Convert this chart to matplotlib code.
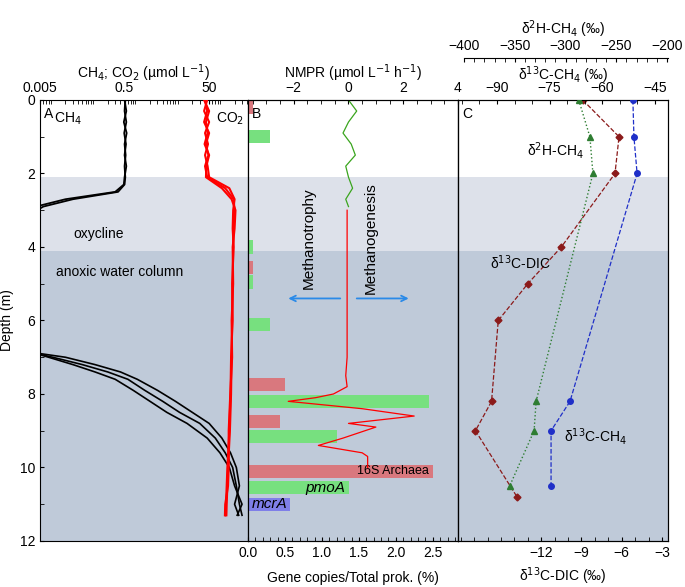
import matplotlib
matplotlib.use("Agg")
import matplotlib.pyplot as plt
from matplotlib.ticker import MultipleLocator, FixedLocator, LogLocator, NullFormatter

plt.rcParams["font.family"] = "Liberation Sans"
plt.rcParams["font.size"] = 10

# ---------------- data ----------------
# Panel A: concentration profiles (umol/L) vs depth (m)
ch4_d_up = [0, 0.3, 0.6, 0.9, 1.2, 1.5, 1.8, 2.1, 2.3, 2.5, 2.7, 2.9, 3.1, 3.2]
ch4_r1_up = [0.5, 0.55, 0.48, 0.56, 0.5, 0.53, 0.5, 0.52, 0.5, 0.35, 0.03, 0.006, 0.003, 0.002]
ch4_r2_up = [0.52, 0.5, 0.55, 0.49, 0.54, 0.5, 0.55, 0.5, 0.48, 0.3, 0.02, 0.004, 0.002, 0.001]
ch4_d_dn = [6.9, 7.0, 7.2, 7.4, 7.6, 7.9, 8.2, 8.5, 8.8, 9.2, 9.6, 10.0, 10.5, 11.0, 11.3]
ch4_r1_dn = [0.004, 0.01, 0.05, 0.2, 0.6, 1.5, 4, 10, 30, 70, 120, 180, 220, 260, 300]
ch4_r2_dn = [0.005, 0.02, 0.1, 0.4, 1.0, 3.0, 8, 20, 50, 100, 160, 220, 260, 200, 250]
ch4_r3_dn = [0.004, 0.008, 0.03, 0.1, 0.3, 0.8, 2, 5, 15, 45, 90, 150, 200, 300, 230]
co2_d = [0, 0.3, 0.6, 0.9, 1.2, 1.5, 1.8, 2.1, 2.4, 2.7, 3.0, 3.5, 4.0, 5.0, 6.0, 7.0, 8.0, 9.0, 10.0, 10.5, 11.0, 11.3]
co2_r1 = [40, 45, 38, 50, 42, 48, 40, 45, 120, 190, 200, 190, 185, 180, 175, 170, 165, 155, 140, 135, 130, 128]
co2_r2 = [45, 38, 50, 40, 47, 40, 46, 50, 150, 200, 185, 180, 190, 175, 180, 165, 160, 150, 135, 130, 125, 122]
co2_r3 = [38, 50, 42, 46, 39, 50, 43, 42, 100, 170, 210, 200, 180, 185, 170, 175, 158, 145, 145, 140, 120, 118]

# Panel B: NMPR (umol/L/h)
nmpr_ox_d = [0, 0.3, 0.6, 0.9, 1.2, 1.5, 1.8, 2.1, 2.4, 2.7, 2.9]
nmpr_ox_v = [0.0, 0.3, 0.0, -0.2, 0.1, 0.25, -0.1, 0.0, 0.15, -0.1, 0.0]
nmpr_an_d = [3.0, 4.0, 5.0, 6.0, 7.0, 7.5, 7.8, 8.0, 8.1, 8.2, 8.4, 8.6, 8.8, 8.9, 9.0, 9.2, 9.4, 9.6, 9.7, 10.0]
nmpr_an_v = [-0.05, -0.05, -0.05, -0.05, -0.05, -0.1, -0.05, -0.55, -1.2, -2.2, 0.5, 2.4, 0.0, 1.0, 0.6, -0.2, -1.1, 0.5, 0.7, 0.7]

# Panel B: gene copies / total prokaryotes (%)
arch_d = [0.2, 4.55, 7.75, 8.75, 10.1]
arch_v = [0.07, 0.07, 0.5, 0.43, 2.5]
pmoa_d = [1.0, 4.0, 4.95, 6.1, 8.2, 9.15, 10.55]
pmoa_v = [0.3, 0.07, 0.07, 0.3, 2.45, 1.2, 1.37]
mcra_d = [9.55, 11.0]
mcra_v = [0.02, 0.57]

# Panel C: isotopes
dic_d = [0, 1, 2, 4, 5, 6, 8.2, 9, 10.8]
dic_v = [-8.9, -6.2, -6.5, -10.5, -13.0, -15.2, -15.7, -16.9, -13.8]
h2_d = [0, 1, 2, 8.2, 9, 10.5]
h2_v = [-287, -276, -273, -329, -331, -355]
c13_d = [0, 1, 2, 8.2, 9, 10.5]
c13_v = [-51.3, -51.0, -50.1, -69.2, -74.6, -74.6]

# ---------------- figure ----------------
W, H = 685, 587
fig = plt.figure(figsize=(W / 100, H / 100), dpi=100)
bot = (H - 541) / H
hgt = 441 / H
def pos(x0, x1):
    return [x0 / W, bot, (x1 - x0) / W, hgt]

axA = fig.add_axes(pos(40, 248))
axB = fig.add_axes(pos(248, 458))
axC = fig.add_axes(pos(458, 668))

light = "#dde1ea"
dark = "#bfcad9"
for ax in (axA, axB, axC):
    ax.axhspan(2.1, 4.1, color=light, zorder=0, lw=0)
    ax.axhspan(4.1, 12, color=dark, zorder=0, lw=0)
    ax.set_ylim(12, 0)
    ax.tick_params(direction="in", which="both", length=3)

# ---- Panel A ----
axA.set_xscale("log")
axA.set_xlim(0.005, 415)
axA.yaxis.set_major_locator(MultipleLocator(2))
axA.yaxis.set_minor_locator(MultipleLocator(1))
axA.set_ylabel("Depth (m)")
axA.xaxis.set_ticks_position("top")
axA.xaxis.set_label_position("top")
axA.set_xticks([0.005, 0.5, 50])
axA.set_xticklabels(["0.005", "0.5", "50"])
axA.xaxis.set_minor_locator(LogLocator(base=10, subs=range(2, 10), numticks=20))
axA.xaxis.set_minor_formatter(NullFormatter())
axA.set_xlabel("CH$_4$; CO$_2$ (µmol L$^{-1}$)", labelpad=2)
axA.tick_params(axis="x", which="both", bottom=False, top=True)
for r in (ch4_r1_up, ch4_r2_up):
    axA.plot(r, ch4_d_up, color="black", lw=1.3, zorder=3)
for r in (ch4_r1_dn, ch4_r2_dn, ch4_r3_dn):
    axA.plot(r, ch4_d_dn, color="black", lw=1.2, zorder=3)
for r in (co2_r1, co2_r2, co2_r3):
    axA.plot(r, co2_d, color="red", lw=1.5, zorder=3)
axA.text(0.02, 0.985, "A", transform=axA.transAxes, va="top", fontsize=10)
axA.text(0.011, 0.5, "CH$_4$", fontsize=10, va="center")
axA.text(330, 0.5, "CO$_2$", fontsize=10, va="center", ha="right")
axA.text(0.03, 3.75, "oxycline", fontsize=10)
axA.text(0.012, 4.8, "anoxic water column", fontsize=10)

# ---- Panel B ----
axB.set_xlim(0, 2.84)
axB.xaxis.set_major_locator(FixedLocator([0, 0.5, 1.0, 1.5, 2.0, 2.5]))
axB.xaxis.set_minor_locator(MultipleLocator(0.1))
axB.set_xticklabels(["0.0", "0.5", "1.0", "1.5", "2.0", "2.5"])
axB.set_xlabel("Gene copies/Total prok. (%)", labelpad=8)
axB.tick_params(axis="y", left=False, labelleft=False)
bh = 0.36
axB.barh(arch_d, arch_v, height=bh, color="#d9787e", zorder=2)
axB.barh(pmoa_d, pmoa_v, height=bh, color="#77e07f", zorder=2)
axB.barh(mcra_d, mcra_v, height=bh, color="#7f7fe8", zorder=2)
axB.text(2.45, 10.1, "16S Archaea", ha="right", va="center", fontsize=9)
axB.text(1.32, 10.55, "pmoA", ha="right", va="center", fontsize=11, style="italic")
axB.text(0.05, 11.0, "mcrA", ha="left", va="center", fontsize=11, style="italic")
axB.text(0.02, 0.985, "B", transform=axB.transAxes, va="top", fontsize=10)

axB2 = axB.twiny()
axB2.set_xlim(-3.67, 4)
axB2.set_ylim(12, 0)
axB2.xaxis.set_major_locator(FixedLocator([-2, 0, 2, 4]))
axB2.xaxis.set_minor_locator(MultipleLocator(0.5))
axB2.tick_params(direction="in", which="both", length=3)
axB2.set_xlabel("NMPR (µmol L$^{-1}$ h$^{-1}$)", labelpad=2)
axB2.plot(nmpr_ox_v, nmpr_ox_d, color="#3aa51e", lw=0.9)
axB2.plot(nmpr_an_v, nmpr_an_d, color="red", lw=0.9)
axB2.text(-1.45, 3.75, "Methanotrophy", rotation=90, ha="center", va="center", fontsize=11)
axB2.text(0.8, 3.75, "Methanogenesis", rotation=90, ha="center", va="center", fontsize=11)
axB2.annotate("", xy=(-2.3, 5.4), xytext=(-0.2, 5.4),
              arrowprops=dict(arrowstyle="->", color="#2a8ae8", lw=1.3))
axB2.annotate("", xy=(2.3, 5.4), xytext=(0.2, 5.4),
              arrowprops=dict(arrowstyle="->", color="#2a8ae8", lw=1.3))

# ---- Panel C ----
axC.set_xlim(-18.2, -2.55)
axC.xaxis.set_major_locator(FixedLocator([-12, -9, -6, -3]))
axC.xaxis.set_minor_locator(MultipleLocator(1))
axC.set_xlabel("δ$^{13}$C-DIC (‰)", labelpad=4)
axC.tick_params(axis="y", left=False, labelleft=False)
axC.plot(dic_v, dic_d, color="#8b1a1a", ls="--", lw=0.9, marker="D", ms=3.5, zorder=3)
axC.text(0.02, 0.985, "C", transform=axC.transAxes, va="top", fontsize=10)
axC.text(-15.8, 4.6, "δ$^{13}$C-DIC", fontsize=10)

axC2 = axC.twiny()
axC2.set_xlim(-101.1, -41.3)
axC2.set_ylim(12, 0)
axC2.xaxis.set_major_locator(FixedLocator([-90, -75, -60, -45]))
axC2.xaxis.set_minor_locator(MultipleLocator(5))
axC2.tick_params(direction="in", which="both", length=3)
axC2.set_xlabel("δ$^{13}$C-CH$_4$ (‰)", labelpad=1)
axC2.plot(c13_v, c13_d, color="#1f2fc8", ls="--", lw=0.9, marker="o", ms=4, zorder=3)
axC2.text(-71, 9.3, "δ$^{13}$C-CH$_4$", fontsize=10)

axC3 = axC.twiny()
axC3.set_xlim(-406, -199)
axC3.set_ylim(12, 0)
axC3.spines["top"].set_position(("axes", 1.095))
axC3.spines["top"].set_bounds(-400, -199)
for s in ("left", "right", "bottom"):
    axC3.spines[s].set_visible(False)
axC3.xaxis.set_major_locator(FixedLocator([-400, -350, -300, -250, -200]))
axC3.xaxis.set_minor_locator(MultipleLocator(10))
axC3.tick_params(direction="in", which="both", length=3)
axC3.set_xlabel("δ$^{2}$H-CH$_4$ (‰)", labelpad=4)
axC3.plot(h2_v, h2_d, color="#2e7d32", ls=":", lw=1.0, marker="^", ms=4, zorder=3)
axC3.text(-338, 1.5, "δ$^{2}$H-CH$_4$", fontsize=10)

fig.savefig("out.png", dpi=100)
